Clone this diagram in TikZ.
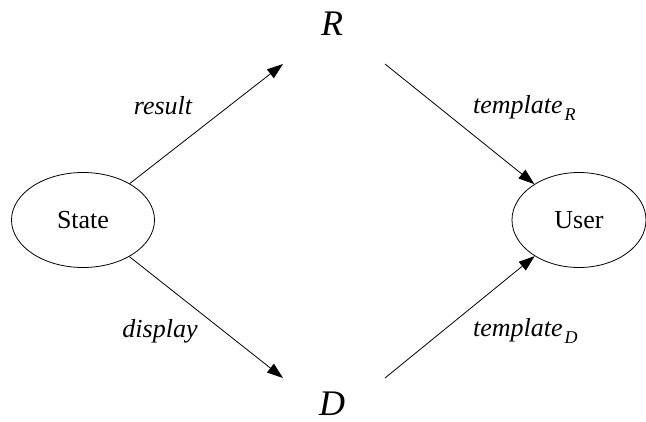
\documentclass[tikz,border=0pt]{standalone}
\usepackage{fontspec}
\setmainfont{Liberation Serif}
\usetikzlibrary{arrows.meta,shapes.geometric}
\newcommand{\lowsub}[1]{\kern2pt\raisebox{-7pt}{\fontsize{18}{20}\selectfont\itshape #1}}
\begin{document}
\begin{tikzpicture}[x=1pt,y=-1pt,
  stateell/.style={draw,ellipse,line width=0.8pt,minimum width=143pt,minimum height=95pt,inner sep=0pt,font=\fontsize{26}{30}\selectfont},
  bigletter/.style={inner sep=0pt,anchor=base,font=\fontsize{36}{40}\selectfont\itshape},
  edgelabel/.style={inner sep=0pt,font=\fontsize{26}{30}\selectfont\itshape},
  arr/.style={line width=0.8pt,-{Triangle[length=16pt,width=11pt]}}]
\useasboundingbox (0,0) rectangle (646,422);
\node[stateell] (State) at (83,220) {State};
\node[stateell,minimum width=134pt] (User) at (579,220) {User};
\node[bigletter] (R) at (332,36) {R};
\node[bigletter] (D) at (332,416) {D};
\coordinate (Rin) at (283,64);
\coordinate (Rout) at (385,64);
\coordinate (Din) at (283,378);
\coordinate (Dout) at (385,378);
\draw[arr] (State) -- (Rin);
\draw[arr] (State) -- (Din);
\draw[arr] (Rout) -- (User);
\draw[arr] (Dout) -- (User);
\node[edgelabel,anchor=base] (l1) at (163,115) {result};
\node[edgelabel,anchor=base] (l2) at (160,338) {display};
\node[edgelabel,anchor=base west] (l3) at (473,114) {template\lowsub{R}};
\node[edgelabel,anchor=base west] (l4) at (473,337) {template\lowsub{D}};
\end{tikzpicture}
\end{document}
